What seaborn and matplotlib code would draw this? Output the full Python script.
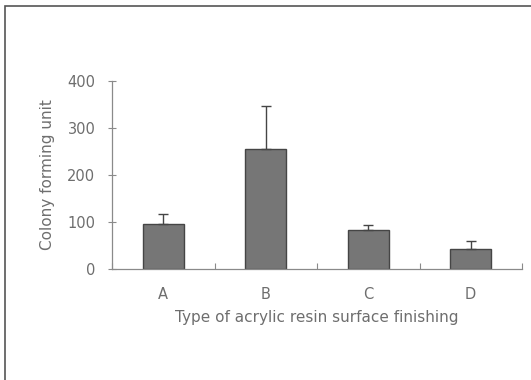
import matplotlib
matplotlib.use('Agg')
import matplotlib.pyplot as plt
import matplotlib.patches as mpatches
import seaborn as sns

# Values
categories = ['A', 'B', 'C', 'D']
cfu_mean = [95, 256, 84, 43]
cfu_sd = [21, 90, 10, 17]

sns.set_theme(style='white')
plt.rcParams['font.family'] = ['DejaVu Sans']

text_col = '#6e6e6e'
axis_col = '#8a8a8a'

fig = plt.figure(figsize=(5.31, 3.8), dpi=100)
ax = fig.add_axes([112 / 531, 1 - 269 / 380, (522 - 112) / 531, (269 - 81) / 380])

sns.barplot(x=categories, y=cfu_mean, width=0.4, color='#767676',
            edgecolor='#454545', linewidth=1.0, saturation=1, ax=ax)

# upper error bars only
ax.errorbar(range(len(categories)), cfu_mean, yerr=[[0] * 4, cfu_sd],
            fmt='none', ecolor='#454545', elinewidth=1.0, capsize=3.5,
            capthick=1.0)

ax.set_xlim(-0.5, 3.5)
ax.set_ylim(0, 400)
ax.set_yticks([0, 100, 200, 300, 400])
ax.set_xticks(range(4))
ax.set_xticks([-0.5, 0.5, 1.5, 2.5, 3.5], minor=True)
ax.tick_params(axis='x', which='major', length=0, pad=13, labelsize=10.5,
               colors=text_col)
ax.tick_params(axis='x', which='minor', length=4, direction='in',
               color=axis_col, width=0.8, bottom=True)
ax.tick_params(axis='y', length=6, direction='inout', color=axis_col,
               width=0.8, labelsize=10.5, colors=text_col, pad=9, left=True)

for side in ['top', 'right']:
    ax.spines[side].set_visible(False)
for side in ['left', 'bottom']:
    ax.spines[side].set_color(axis_col)
    ax.spines[side].set_linewidth(0.9)

ax.set_xlabel('Type of acrylic resin surface finishing', fontsize=11,
              color=text_col, labelpad=6)
ax.set_ylabel('Colony forming unit', fontsize=11, color=text_col,
              labelpad=9)

# outer frame (only top and left edges fall inside the picture)
frame = mpatches.Rectangle((5 / 531, -0.5), 2, 0.5 + 1 - 6 / 380,
                           transform=fig.transFigure, fill=False,
                           edgecolor='#555555', linewidth=1.2)
fig.add_artist(frame)

fig.savefig('out.png', dpi=100)
